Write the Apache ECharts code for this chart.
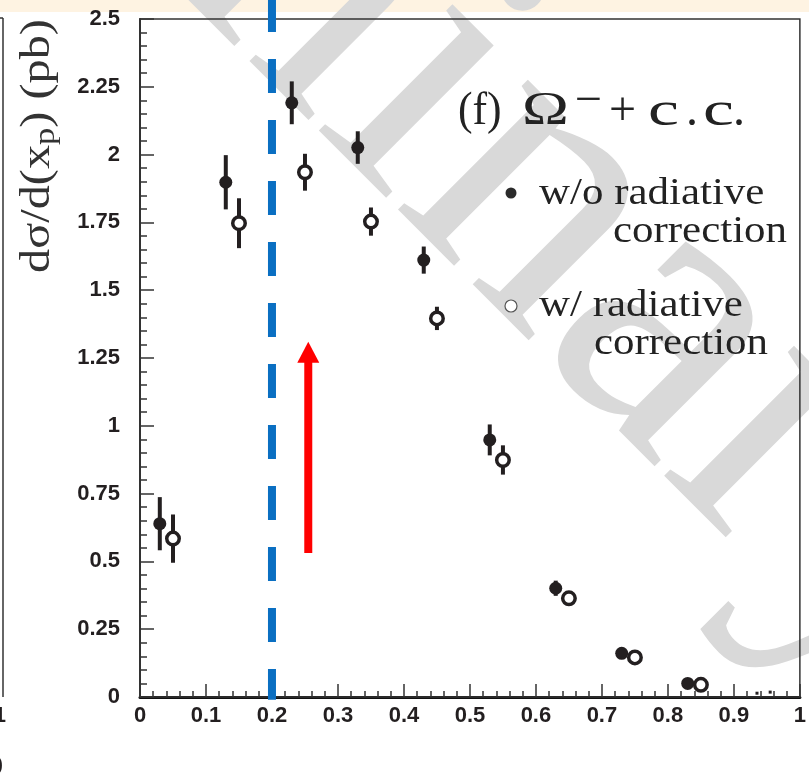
<!DOCTYPE html>
<html>
<head>
<meta charset="utf-8">
<script src="https://cdn.jsdelivr.net/npm/echarts@6/dist/echarts.min.js"></script>
<style>
html,body{margin:0;padding:0;background:#fff;}
#chart{width:809px;height:776px;}
</style>
</head>
<body>
<div id="chart"></div>
<script>
// ---- data ----
const xNoRad  = [0.03, 0.13, 0.23, 0.33, 0.43, 0.53, 0.63, 0.73, 0.83];
const yNoRad  = [0.639, 1.898, 2.191, 2.026, 1.611, 0.948, 0.401, 0.161, 0.050];
const eNoRad  = [0.098, 0.100, 0.079, 0.060, 0.050, 0.057, 0.028, 0.012, 0.008];
const xRad    = [0.05, 0.15, 0.25, 0.35, 0.45, 0.55, 0.65, 0.75, 0.85];
const yRad    = [0.584, 1.747, 1.935, 1.753, 1.396, 0.874, 0.364, 0.146, 0.045];
const eRad    = [0.089, 0.092, 0.068, 0.052, 0.043, 0.054, 0.022, 0.010, 0.006];
const xTail   = [0.935, 0.955];
const yTail   = [0.014, 0.018];
const cutX    = [0.2];
const cutRange = [-0.01, 2.577];
const arrowX  = [0.255];
const arrowFrom = [0.531];
const arrowTo   = [1.31];
const yTicks = [0, 0.25, 0.5, 0.75, 1, 1.25, 1.5, 1.75, 2, 2.25, 2.5];
const xTicks = [0, 0.1, 0.2, 0.3, 0.4, 0.5, 0.6, 0.7, 0.8, 0.9, 1];

const INK = '#231f20';
const errData = (xs, ys, es) => xs.map((x, i) => [x, ys[i] - es[i], ys[i] + es[i]]);
const ptData = (xs, ys) => xs.map((x, i) => [x, ys[i]]);

function errRender(params, api) {
  const p1 = api.coord([api.value(0), api.value(1)]);
  const p2 = api.coord([api.value(0), api.value(2)]);
  return {type: 'line', shape: {x1: p1[0], y1: p1[1], x2: p2[0], y2: p2[1]},
          style: {stroke: INK, lineWidth: 4}};
}

const chart = echarts.init(document.getElementById('chart'), null, {renderer: 'canvas'});
const axisLabelStyle = {fontFamily: 'Liberation Sans', fontWeight: 'bold', fontSize: 22, color: INK};
const serif = (px) => px + 'px "Liberation Serif"';
const txt = (x, y, text, px, opts, align) => Object.assign({type: 'text', z: 10, x: x, y: y,
  style: {text: text, font: serif(px), fill: '#222', textAlign: align || 'left', textVerticalAlign: 'middle'}}, opts || {});

const option = {
  animation: false,
  backgroundColor: '#fff',
  grid: {left: 140, right: 3, top: 19, bottom: 79, show: true, borderColor: '#333', borderWidth: 1.5, backgroundColor: 'transparent', z: 3},
  xAxis: {
    type: 'value', min: xTicks[0], max: xTicks[xTicks.length - 1], interval: 0.1,
    axisLine: {lineStyle: {color: '#111', width: 3}},
    axisTick: {inside: true, length: 13, lineStyle: {color: '#333', width: 1.5}},
    minorTick: {show: true, splitNumber: 5, length: 6, lineStyle: {color: '#333', width: 1.5}},
    axisLabel: Object.assign({margin: 8}, axisLabelStyle),
    splitLine: {show: false}
  },
  yAxis: {
    type: 'value', min: yTicks[0], max: yTicks[yTicks.length - 1], interval: 0.25,
    axisLine: {lineStyle: {color: '#333', width: 2}},
    axisTick: {inside: true, length: 14, lineStyle: {color: '#333', width: 1.5}},
    minorTick: {show: true, splitNumber: 5, length: 7, lineStyle: {color: '#333', width: 1.5}},
    axisLabel: Object.assign({margin: 20}, axisLabelStyle),
    splitLine: {show: false}
  },
  graphic: [
    {type: 'rect', z: 0, shape: {x: 0, y: 0, width: 809, height: 12}, style: {fill: '#fef3e2'}},
    {type: 'text', z: 1, x: -367, y: -704, rotation: -45 * Math.PI / 180,
     style: {text: 'Preliminary', font: serif(400), fill: '#d9d9d9', textAlign: 'left', textVerticalAlign: 'middle'}},
    // remnant of neighbouring panel at the left edge
    {type: 'line', z: 5, shape: {x1: 3, y1: 18, x2: 3, y2: 697}, style: {stroke: '#333', lineWidth: 1.5}},
    {type: 'line', z: 5, shape: {x1: 0, y1: 18, x2: 3, y2: 18}, style: {stroke: '#333', lineWidth: 1.5}},
    {type: 'text', z: 5, x: 6, y: 716, style: {text: '1', font: 'bold 22px "Liberation Sans"', fill: INK, textAlign: 'right', textVerticalAlign: 'middle'}},
    {type: 'text', z: 5, x: 3, y: 765, style: {text: ')', font: serif(24), fill: INK, textAlign: 'right', textVerticalAlign: 'middle'}},
    // y axis title
    {type: 'text', z: 10, x: 38, y: 146, rotation: Math.PI / 2, scaleX: 1.15,
     style: {text: 'dσ/d(x{s|p}) (pb)', textAlign: 'center', textVerticalAlign: 'middle',
             font: serif(42), fill: '#333',
             rich: {s: {font: serif(30), fill: '#333', padding: [16, 0, 0, 0]}}}},
    // panel label
    txt(458, 112, '(f)', 46, {scaleX: 0.95}),
    txt(522, 112, 'Ω', 46, {scaleX: 1.37}),
    txt(575, 102, '−', 46, {scaleX: 1.05}),
    txt(609, 112, '+', 48),
    txt(648, 112, 'c', 48, {scaleX: 1.45}),
    txt(686, 112, '.', 48),
    txt(703, 112, 'c', 48, {scaleX: 1.45}),
    txt(733, 112, '.', 48),
    // legend
    {type: 'circle', z: 10, shape: {cx: 511, cy: 193, r: 5.5}, style: {fill: '#2b2b2b'}},
    txt(539, 194, 'w/o radiative', 38, {scaleX: 1.13}),
    txt(787, 232, 'correction', 38, {scaleX: 1.13}, 'right'),
    {type: 'circle', z: 10, shape: {cx: 511, cy: 306, r: 6}, style: {fill: '#fff', stroke: '#555', lineWidth: 1.2}},
    txt(539, 306, 'w/ radiative', 38, {scaleX: 1.13}),
    txt(768, 344, 'correction', 38, {scaleX: 1.13}, 'right')
  ],
  series: [
    {type: 'custom', name: 'cut', z: 4, clip: false,
     data: cutX.map(x => [x, cutRange[0], cutRange[1]]),
     renderItem: (params, api) => {
       const top = api.coord([api.value(0), api.value(2)]);
       const bot = api.coord([api.value(0), api.value(1)]);
       return {type: 'line', shape: {x1: top[0], y1: top[1], x2: bot[0], y2: bot[1]},
               style: {stroke: '#0a6fc2', lineWidth: 8, lineDash: [34, 27]}};
     }},
    {type: 'custom', name: 'arrow', z: 4,
     data: arrowX.map((x, i) => [x, arrowFrom[i], arrowTo[i]]),
     renderItem: (params, api) => {
       const a = api.coord([api.value(0), api.value(1)]);
       const b = api.coord([api.value(0), api.value(2)]);
       const headH = 21, headW = 11;
       return {type: 'group', children: [
         {type: 'line', shape: {x1: a[0], y1: a[1], x2: b[0], y2: b[1] + headH - 1}, style: {stroke: '#ff0000', lineWidth: 8}},
         {type: 'polygon', shape: {points: [[b[0], b[1]], [b[0] - headW, b[1] + headH], [b[0] + headW, b[1] + headH]]}, style: {fill: '#ff0000'}}
       ]};
     }},
    {type: 'custom', name: 'errNoRad', z: 5, data: errData(xNoRad, yNoRad, eNoRad), renderItem: errRender},
    {type: 'custom', name: 'errRad', z: 5, data: errData(xRad, yRad, eRad), renderItem: errRender},
    {type: 'scatter', name: 'w/o radiative correction', z: 6, symbol: 'circle', symbolSize: 13,
     itemStyle: {color: INK, opacity: 1}, data: ptData(xNoRad, yNoRad)},
    {type: 'scatter', name: 'w/ radiative correction', z: 6, symbol: 'circle', symbolSize: 12.5,
     itemStyle: {color: '#fff', borderColor: INK, borderWidth: 3.5, opacity: 1}, data: ptData(xRad, yRad)},
    {type: 'scatter', name: 'tail', z: 6, symbol: 'rect', symbolSize: 3,
     itemStyle: {color: INK, opacity: 1}, data: ptData(xTail, yTail)}
  ]
};
chart.setOption(option);
</script>
</body>
</html>
